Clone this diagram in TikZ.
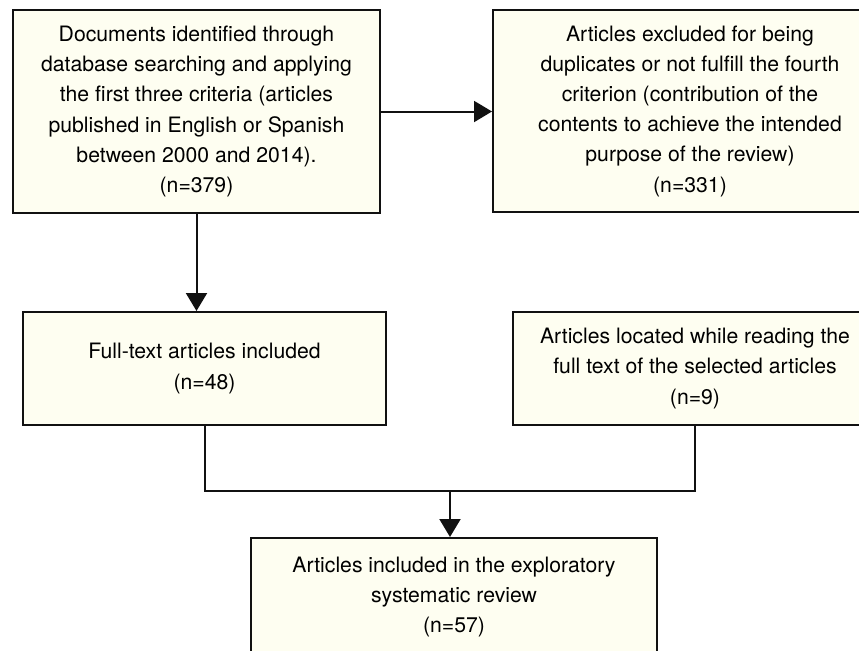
\documentclass[tikz,border=0pt]{standalone}
\usepackage{fontspec}
\setmainfont{TeX Gyre Heros}
\usetikzlibrary{arrows.meta,positioning}
\definecolor{boxfill}{HTML}{FEFEF1}
\definecolor{boxline}{HTML}{111111}

\begin{document}
\begin{tikzpicture}[x=0.5pt,y=-0.5pt,
    flowbox/.style={draw=boxline,fill=boxfill,line width=1pt,align=center,
      inner sep=0pt,font=\fontsize{10.6}{15.1}\selectfont},
    flowline/.style={draw=boxline,line width=1pt},
    flowarrow/.style={flowline,-{Triangle[length=9pt,width=10.5pt]}}]
    \useasboundingbox (0,0) rectangle (859,650);
    \clip (0,0) rectangle (859,650);
    \node[flowbox,minimum width=183.5pt,minimum height=101.5pt] (docs) at (196.5,111.5)
      {Documents identified through\\database searching and applying\\the first three criteria (articles\\published in English or Spanish\\between 2000 and 2014).\\(n=379)};
    \node[flowbox,minimum width=197pt,minimum height=101pt] (excluded) at (690,111)
      {Articles excluded for being\\duplicates or not fulfill the fourth\\criterion (contribution of the\\contents to achieve the intended\\purpose of the review)\\(n=331)};
    \node[flowbox,minimum width=181.5pt,minimum height=56.5pt] (fulltext) at (204.5,368.5)
      {Full-text articles included\\(n=48)};
    \node[flowbox,minimum width=182pt,minimum height=56.5pt] (located) at (695,368.5)
      {Articles located while reading the\\full text of the selected articles\\(n=9)};
    \node[flowbox,minimum width=203pt,minimum height=59pt] (review) at (454,597)
      {Articles included in the exploratory\\systematic review\\(n=57)};
    \coordinate (join) at (450,491);
    % connectors
    \draw[flowarrow] (docs.east) -- (docs.east -| excluded.west);
    \draw[flowarrow] (docs.south) -- (docs.south |- fulltext.north);
    \draw[flowline] (fulltext.south) |- (join) -| (located.south);
    \draw[flowarrow] (join) -- (join |- review.north);
\end{tikzpicture}
\end{document}
